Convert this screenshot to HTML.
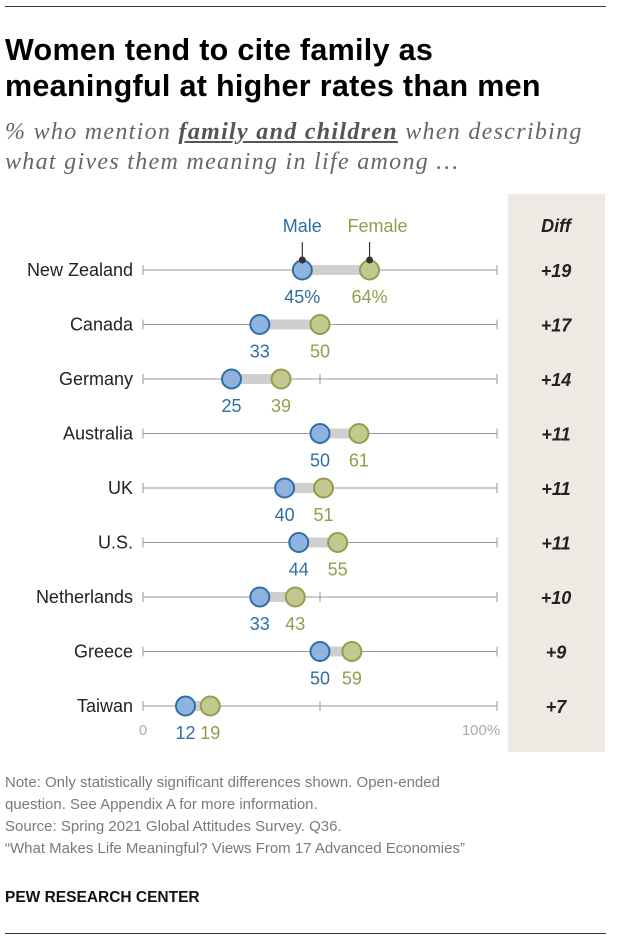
<!DOCTYPE html>
<html><head><meta charset="utf-8"><style>
body{margin:0;background:#fff;width:620px;height:950px;overflow:hidden;font-family:"Liberation Sans",sans-serif;position:relative}
.t{position:absolute}
</style></head><body>
<div class="t" style="left:5px;top:6px;width:601px;height:1px;background:#333"></div>
<div class="t" style="left:5px;top:32px;font-size:30.5px;font-weight:bold;letter-spacing:0.3px;line-height:36px;color:#000;white-space:nowrap">Women tend to cite family as<br>meaningful at higher rates than men</div>
<div class="t" style="left:5px;top:117px;font-family:'Liberation Serif',serif;font-style:italic;font-size:24px;letter-spacing:1.3px;line-height:30px;color:#666;white-space:nowrap">% who mention <b style="text-decoration:underline;color:#555">family and children</b> when describing<br>what gives them meaning in life among …</div>
<svg class="t" style="left:0;top:0" width="620" height="950">
<rect x="508" y="194" width="97" height="558" fill="#ede9e3"/>
<g id="g"></g>
</svg>
<div class="t" style="left:5px;top:772px;font-size:15px;line-height:22px;color:#7a7a7a;width:615px">Note: Only statistically significant differences shown. Open-ended<br>question. See Appendix A for more information.<br>Source: Spring 2021 Global Attitudes Survey. Q36.<br>“What Makes Life Meaningful? Views From 17 Advanced Economies”</div>
<div class="t" style="left:5px;top:889px;font-size:15.5px;font-weight:bold;color:#111">PEW RESEARCH CENTER</div>
<div class="t" style="left:5px;top:933px;width:601px;height:1px;background:#333"></div>
<script>
const countries=["New Zealand","Canada","Germany","Australia","UK","U.S.","Netherlands","Greece","Taiwan"];
const male=[45,33,25,50,40,44,33,50,12];
const female=[64,50,39,61,51,55,43,59,19];
const diffs=["+19","+17","+14","+11","+11","+11","+10","+9","+7"];
const NS="http://www.w3.org/2000/svg",g=document.getElementById('g');
const x=v=>143+v*3.54, y=i=>270+i*54.5;
function mk(t,a,txt){const e=document.createElementNS(NS,t);for(const k in a)e.setAttribute(k,a[k]);if(txt!=null)e.textContent=txt;g.appendChild(e);return e;}
let e;
e=mk('text',{x:556,y:232,'text-anchor':'middle','font-size':18,'font-weight':'bold','font-style':'italic',fill:'#222'},'Diff');

e=mk('text',{x:x(45),y:232,'text-anchor':'middle','font-size':18,fill:'#2f6ea3'},'Male');

e=mk('text',{x:x(64)+8,y:232,'text-anchor':'middle','font-size':18,fill:'#949c4c'},'Female');

mk('line',{x1:x(45),x2:x(45),y1:242,y2:258,stroke:'#333','stroke-width':1.2});
mk('line',{x1:x(64),x2:x(64),y1:242,y2:258,stroke:'#333','stroke-width':1.2});
countries.forEach((c,i)=>{
 const yy=y(i);
 e=mk('text',{x:133,y:yy+6,'text-anchor':'end','font-size':18,fill:'#222'},c);
 
 mk('line',{x1:x(0),x2:x(100),y1:yy,y2:yy,stroke:'#999','stroke-width':1});
 [0,50,100].forEach(v=>mk('line',{x1:x(v),x2:x(v),y1:yy-5,y2:yy+5,stroke:'#999','stroke-width':1}));
 e=mk('rect',{x:x(male[i]),y:yy-5,width:x(female[i])-x(male[i]),height:10,fill:'#cfcfcf'});
 
 e=mk('circle',{cx:x(male[i]),cy:yy,r:9.5,fill:'#8fb3e0',stroke:'#2e6ea4','stroke-width':2});
 
 e=mk('circle',{cx:x(female[i]),cy:yy,r:9.5,fill:'#c3c98d',stroke:'#939d4d','stroke-width':2});
 
 if(i==0){mk('circle',{cx:x(male[i]),cy:yy-10,r:3.5,fill:'#333'});mk('circle',{cx:x(female[i]),cy:yy-10,r:3.5,fill:'#333'});}
 e=mk('text',{x:x(male[i]),y:yy+33,'text-anchor':'middle','font-size':18,fill:'#2f6ea3'},male[i]+(i==0?'%':''));
 
 e=mk('text',{x:x(female[i]),y:yy+33,'text-anchor':'middle','font-size':18,fill:'#949c4c'},female[i]+(i==0?'%':''));
 
 e=mk('text',{x:556,y:yy+7,'text-anchor':'middle','font-size':18,'font-weight':'bold','font-style':'italic',fill:'#222'},diffs[i]);
 
});
e=mk('text',{x:x(0),y:735,'text-anchor':'middle','font-size':15,fill:'#aaa'},'0');

e=mk('text',{x:x(100)-16,y:735,'text-anchor':'middle','font-size':15,fill:'#aaa'},'100%');

</script>
</body></html>
